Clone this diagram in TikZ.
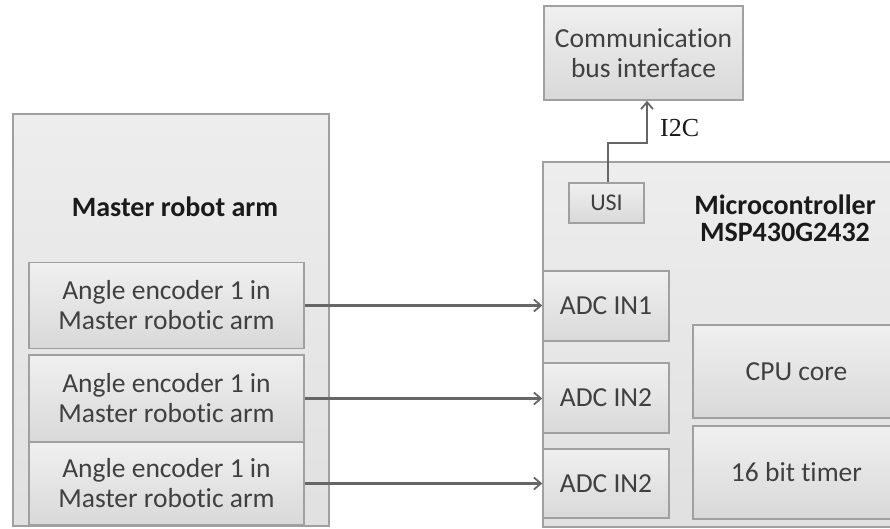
\documentclass[tikz,border=0pt]{standalone}
\usepackage{fontspec}
\setmainfont[Ligatures=NoCommon]{Carlito}
\newfontfamily\lblfont{Liberation Serif}
\usetikzlibrary{arrows.meta}
\newcommand\nolig{\kern0pt }
\definecolor{edge}{HTML}{A0A0A0}
\definecolor{txt}{HTML}{404040}
\definecolor{dark}{HTML}{1A1A1A}
\definecolor{wire}{HTML}{666666}
\tikzset{
  outer/.style={draw=edge, line width=1.5pt, top color=gray!14, bottom color=gray!24, inner sep=0pt},
  blk/.style={draw=edge, line width=1.5pt, top color=gray!12, bottom color=gray!30, inner sep=0pt,
    text=txt, font=\fontsize{27.5}{30}\selectfont, align=center},
  ttl/.style={text=dark, font=\fontsize{28}{27}\selectfont\bfseries, align=center, inner sep=0pt},
  conn/.style={draw=wire, line width=2.4pt, -{Straight Barb[length=7pt,width=12pt,line width=1.8pt]}},
}
\begin{document}
\begin{tikzpicture}[x=1pt,y=-1pt]
\useasboundingbox (0,0) rectangle (890,529);
% master
\node[outer, minimum width=316, minimum height=412] (master) at (171,320) {};
\node[ttl] (mtitle) at (175,207) {Master robot arm};
\node[blk, minimum width=275, minimum height=86] (e1) at (166.5,305.5) {Angle encoder 1 in\\Master robot\nolig ic arm};
\node[blk, minimum width=275, minimum height=87] (e2) at (166.5,398.5) {Angle encoder 1 in\\Master robot\nolig ic arm};
\node[blk, minimum width=275, minimum height=83] (e3) at (166.5,483.5) {Angle encoder 1 in\\Master robot\nolig ic arm};
% micro
\node[outer, minimum width=352, minimum height=365] (micro) at (719,344.5) {};
\node[ttl] (mctitle) at (785,218) {Microcontroller\\MSP430G2432};
\node[blk, minimum width=75, minimum height=40, font=\fontsize{24}{26}\selectfont] (usi) at (606.5,203) {USI};
\node[blk, minimum width=126, minimum height=70] (a1) at (606,306) {ADC IN1};
\node[blk, minimum width=126, minimum height=70] (a2) at (606,398) {ADC IN2};
\node[blk, minimum width=126, minimum height=69] (a3) at (606,483.5) {ADC IN2};
\node[blk, minimum width=207, minimum height=93] (cpu) at (796.5,371.5) {CPU core};
\node[blk, minimum width=207, minimum height=93] (tmr) at (796.5,472.5) {16 bit timer};
% comm
\node[blk, minimum width=199, minimum height=94] (comm) at (643.5,53) {Communicat\nolig ion\\bus interface};
% connectors
\coordinate (k1) at (608,143);
\coordinate (k2) at (647,143);
\draw[conn] (usi.north -| k1) -- (k1) -- (k2) -- (k2 |- comm.south);
\node[text=dark, font=\lblfont\fontsize{26}{26}\selectfont, anchor=west, inner sep=0pt] (i2c) at (660,128) {I2C};
\draw[conn] (e1.east) -- (a1.west |- e1.east);
\draw[conn] (e2.east) -- (a2.west |- e2.east);
\draw[conn] (e3.east) -- (a3.west |- e3.east);
\end{tikzpicture}
\end{document}
